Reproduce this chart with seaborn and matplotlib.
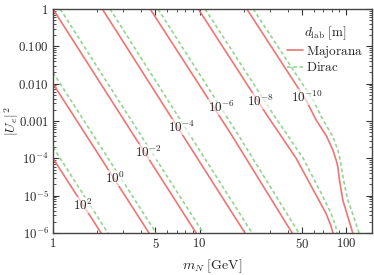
import matplotlib
matplotlib.use("Agg")
import matplotlib.pyplot as plt
from matplotlib.lines import Line2D
from matplotlib.ticker import NullFormatter
import pandas as pd
import seaborn as sns

# decay-length labels (m) and curves: (m_N [GeV], |U_e|^2)
d_labels = ["1e2", "1e0", "1e-2", "1e-4", "1e-6", "1e-8", "1e-10"]
label_text = [r"$10^{2}$", r"$10^{0}$", r"$10^{-2}$", r"$10^{-4}$",
              r"$10^{-6}$", r"$10^{-8}$", r"$10^{-10}$"]
label_m = [1.60, 2.65, 4.45, 7.5, 14.2, 25.9, 54.2]
label_u = [5.6e-6, 2.95e-5, 1.47e-4, 6.9e-4, 2.35e-3, 3.4e-3, 4.4e-3]

maj_m = [
    [1, 2.13],
    [1, 4.52],
    [1, 9.47],
    [2.17, 20.4],
    [4.6, 16.2, 42.8],
    [9.8, 28.8, 45.6, 62.4, 73, 79, 81.2],
    [21, 53.3, 62.4, 73.8, 81.1, 85.5, 87.8, 90, 94.9, 102.7, 111],
]
maj_u = [
    [1e-4, 1e-6],
    [1e-2, 1e-6],
    [1, 1e-6],
    [1, 1e-6],
    [1, 4.8e-4, 1e-6],
    [1, 1.44e-3, 1e-4, 1.03e-5, 3.3e-6, 1.5e-6, 1e-6],
    [1, 3.6e-3, 1.06e-3, 3.8e-4, 1.66e-4, 8.9e-5, 5.9e-5, 2.6e-5, 7.6e-6, 2.7e-6, 1e-6],
]

dir_m = [
    [1, 2.37],
    [1, 5.05],
    [1.12, 10.6],
    [2.45, 22.8],
    [5.2, 18.0, 47.6],
    [10.9, 32.1, 50.9, 68.6, 79, 84.8, 86.8],
    [23.2, 59.5, 69.6, 81.1, 87.8, 91, 92.6, 95.9, 102.7, 112.6, 122.5],
]
dir_u = [
    [2e-4, 1e-6],
    [2e-2, 1e-6],
    [1, 1e-6],
    [1, 1e-6],
    [1, 4.8e-4, 1e-6],
    [1, 1.44e-3, 1e-4, 1.03e-5, 3.3e-6, 1.5e-6, 1e-6],
    [1, 3.6e-3, 1.06e-3, 3.8e-4, 1.66e-4, 8.9e-5, 5.9e-5, 2.6e-5, 7.6e-6, 2.7e-6, 1e-6],
]

x_ticks = [1, 5, 10, 50, 100]
x_ticklabels = [r"$1$", r"$5$", r"$10$", r"$50$", r"$100$"]
y_ticks = [1e-6, 1e-5, 1e-4, 1e-3, 1e-2, 1e-1, 1]
y_ticklabels = [r"$10^{-6}$", r"$10^{-5}$", r"$10^{-4}$", r"$0.001$",
                r"$0.010$", r"$0.100$", r"$1$"]

RED = "#ef7474"
GREEN = "#93d68b"

rows = []
for kind, ms, us in [("Majorana", maj_m, maj_u), ("Dirac", dir_m, dir_u)]:
    for d, mm, uu in zip(d_labels, ms, us):
        for m, u in zip(mm, uu):
            rows.append({"m": m, "U2": u, "d": d, "kind": kind})
df = pd.DataFrame(rows)

sns.set_style("ticks")
plt.rcParams["mathtext.fontset"] = "cm"
plt.rcParams["font.family"] = ["DejaVu Serif"]

fig = plt.figure(figsize=(3.74, 2.75), dpi=100)
ax = fig.add_axes([53 / 374, 1 - 233 / 275, (372 - 53) / 374, (233 - 9) / 275])

sns.lineplot(data=df, x="m", y="U2", hue="kind", style="kind", units="d",
             estimator=None, sort=False, legend=False, ax=ax, linewidth=1.2,
             palette={"Majorana": RED, "Dirac": GREEN},
             dashes={"Majorana": "", "Dirac": (2.2, 1.6)})

ax.set_xscale("log")
ax.set_yscale("log")
ax.set_xlim(1, 150)
ax.set_ylim(1e-6, 1)

for t, m, u in zip(label_text, label_m, label_u):
    ax.text(m, u, t, ha="center", va="center", fontsize=9.5,
            bbox=dict(facecolor="white", edgecolor="none", alpha=0.6, pad=0.3))

ax.set_xticks(x_ticks)
ax.set_xticklabels(x_ticklabels)
ax.set_xticks([2, 3, 4, 6, 7, 8, 9, 20, 30, 40, 60, 70, 80, 90], minor=True)
ax.xaxis.set_minor_formatter(NullFormatter())
ax.set_yticks(y_ticks)
ax.set_yticklabels(y_ticklabels)
ax.set_yticks([k * 10.0 ** e for e in range(-6, 0) for k in range(2, 10)], minor=True)
ax.yaxis.set_minor_formatter(NullFormatter())

ax.tick_params(which="both", direction="in", top=True, right=True,
               color="#333333", labelsize=9.2, pad=3)
ax.tick_params(which="major", length=4, width=0.8)
ax.tick_params(which="minor", length=2, width=0.6)
for s in ax.spines.values():
    s.set_color("#444444")
    s.set_linewidth(1.0)

ax.set_xlabel(r"$m_N\ \mathrm{[GeV]}$", fontsize=10)
ax.xaxis.set_label_coords(0.5, -0.11)
ax.set_ylabel(r"$|U_e|^2$", fontsize=10)
ax.yaxis.set_label_coords(-0.1, 0.5)

handles = [Line2D([], [], color=RED, lw=1.2),
           Line2D([], [], color=GREEN, lw=1.2, dashes=(2.2, 1.6))]
ax.legend(handles, [r"$\mathrm{Majorana}$", r"$\mathrm{Dirac}$"],
          title=r"$d_{\mathrm{lab}}\ \mathrm{[m]}$", loc="upper right",
          bbox_to_anchor=(1.0, 0.97), frameon=False, fontsize=9.5,
          title_fontsize=9.5, handlelength=1.2, handletextpad=0.2,
          labelspacing=0.1, borderaxespad=0.3)

fig.savefig("out.png", dpi=100)
plt.close(fig)
